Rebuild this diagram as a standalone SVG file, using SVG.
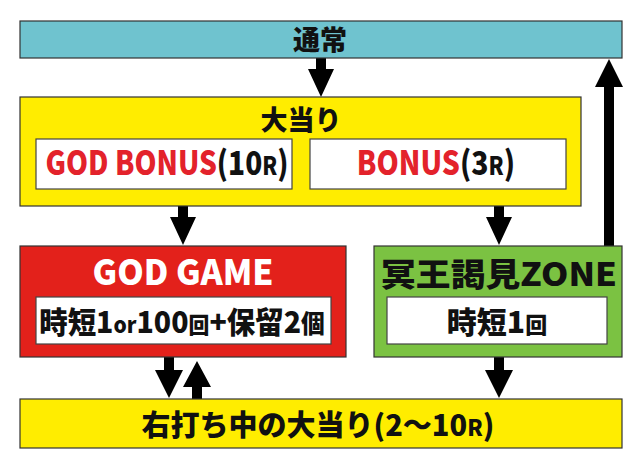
<svg xmlns="http://www.w3.org/2000/svg" width="640" height="469" viewBox="0 0 640 469">
<style>
.box{stroke:#333;stroke-width:1.2}
.w{fill:#fff;stroke:#444;stroke-width:1.2}
.t{font-family:"Noto Sans CJK JP","Noto Sans",sans-serif;font-weight:900;fill:#111}
.r{fill:#E3222B}
.arr{fill:#000}
</style>
<rect width="640" height="469" fill="#fff"/>
<g id="connectors">
<polygon class="arr" points="316,58 326,58 326,69 334,69 321,97 308,69 316,69"/>
<polygon class="arr" points="178,206 188,206 188,217 196,217 183,245 170,217 178,217"/>
<polygon class="arr" points="494,206 504,206 504,217 512,217 499,245 486,217 494,217"/>
<polygon class="arr" points="164,357 174,357 174,370 183,370 169,398 155,370 164,370"/>
<polygon class="arr" points="192,399 202,399 202,387 211,387 197,361 183,387 192,387"/>
<polygon class="arr" points="494,357 504,357 504,370 513,370 499,398 485,370 494,370"/>
<polygon class="arr" points="604,246 614,246 614,87 623,87 609,59 595,87 604,87"/>
</g>
<g id="tsujo">
<rect class="box" x="20" y="21" width="602" height="37" fill="#6FC3CF"/>
<text class="t" x="320" y="50" font-size="27" text-anchor="middle">通常</text>
</g>
<g id="ooatari">
<rect class="box" x="20" y="97" width="561" height="109" fill="#FFED00"/>
<text class="t" x="301" y="130" font-size="27" text-anchor="middle">大当り</text>
<rect class="w" x="36" y="139" width="256" height="50"/>
<text class="t" transform="translate(167,175) scale(0.85,1)" x="0" y="0" font-size="33" text-anchor="middle"><tspan class="r">GOD BONUS</tspan>(10<tspan font-size="25">R</tspan>)</text>
<rect class="w" x="310" y="139" width="256" height="50"/>
<text class="t" transform="translate(436,175) scale(0.86,1)" x="0" y="0" font-size="33" text-anchor="middle"><tspan class="r">BONUS</tspan>(3<tspan font-size="25">R</tspan>)</text>
</g>
<g id="godgame">
<rect class="box" x="20" y="246" width="326" height="111" fill="#E3211B"/>
<text class="t" x="183" y="285" font-size="35" style="fill:#fff" textLength="181" lengthAdjust="spacingAndGlyphs" text-anchor="middle">GOD GAME</text>
<rect class="w" x="36" y="297" width="295" height="47"/>
<text class="t" transform="translate(182,333) scale(0.95,1)" x="0" y="0" font-size="30" text-anchor="middle">時短1<tspan font-size="22">or</tspan>100<tspan font-size="22">回</tspan>+保留2<tspan font-size="25">個</tspan></text>
</g>
<g id="zone">
<rect class="box" x="374" y="246" width="248" height="111" fill="#7BC242"/>
<text class="t" x="381" y="286" font-size="32" textLength="236" lengthAdjust="spacingAndGlyphs">冥王謁見ZONE</text>
<rect class="w" x="387" y="297" width="220" height="47"/>
<text class="t" x="497" y="333" font-size="30" text-anchor="middle">時短1<tspan font-size="22">回</tspan></text>
</g>
<g id="migiuchi">
<rect class="box" x="20" y="399" width="602" height="49" fill="#FFED00"/>
<text class="t" x="318" y="436" font-size="29" text-anchor="middle">右打ち中の大当り(2〜10<tspan font-size="22">R</tspan>)</text>
</g>
</svg>
